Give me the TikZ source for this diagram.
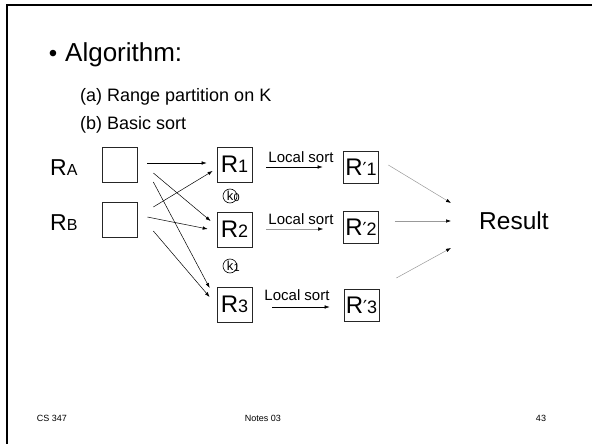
\documentclass[tikz,border=0pt]{standalone}
\usepackage{fontspec}
\setmainfont{Liberation Sans}
\newfontfamily\djv{DejaVu Sans}
\usetikzlibrary{arrows.meta}
\newcommand\Rlab[2]{{\fontsize{24}{28}\selectfont R}{\fontsize{18}{22}\selectfont #2}}
\newcommand\Rside[1]{{\fontsize{23}{28}\selectfont R}{\fontsize{16}{20}\selectfont #1}}
\newcommand\Rplab[1]{{\fontsize{24}{28}\selectfont R}{\djv\fontsize{18}{22}\selectfont ′}{\fontsize{18}{22}\selectfont #1}}
\begin{document}
\begin{tikzpicture}[x=1pt,y=-1pt,
  box/.style={draw=black!85, line width=0.7pt, minimum width=35pt, minimum height=35pt, inner sep=0pt},
  pbox/.style={draw=black!85, line width=0.7pt, minimum width=35pt, minimum height=32pt, inner sep=0pt},
  arr/.style={-{Latex[length=5pt,width=3.5pt]}, line width=0.5pt},
  garr/.style={-{Latex[length=5pt,width=3.5pt,black]}, line width=0.5pt, draw=black!40},
  lbl/.style={font=\fontsize{15}{17}\selectfont, inner sep=0pt},
  txt/.style={anchor=base west, inner sep=0pt},
  kc/.style={draw, circle, line width=0.6pt, minimum size=14pt, inner sep=0pt},
]
\useasboundingbox (0,0) rectangle (592,444);
\draw[line width=2.2pt] (7,444) -- (7,5) -- (592,5);

% heading
\node[anchor=base, inner sep=0pt, font=\fontsize{24}{28}\selectfont] (bul) at (53,62) {•};
\node[txt, font=\fontsize{26}{30}\selectfont] (title) at (65,62) {Algorithm:};
\node[txt, font=\fontsize{18}{22}\selectfont] (ia) at (80,101) {(a) Range partition on K};
\node[txt, font=\fontsize{18}{22}\selectfont] (ib) at (80,129) {(b) Basic sort};

% inputs
\node[txt] (la) at (50,175) {\Rside{A}};
\node[txt] (lb) at (50,230) {\Rside{B}};
\node[box] (A) at (120,164.5) {};
\node[box] (B) at (120,219.5) {};

% partitions
\node[box] (R1) at (234.5,164.5) {\Rlab{}{1}};
\node[box] (R2) at (234.5,229.5) {\Rlab{}{2}};
\node[box] (R3) at (234.5,304.5) {\Rlab{}{3}};

\node[kc] (k0) at (230,196) {};
\node[inner sep=0pt, font=\fontsize{13}{15}\selectfont] (k0t) at (230,196) {k};
\node[anchor=base west, inner sep=0pt, font=\fontsize{11}{13}\selectfont] (k0s) at (233.5,201) {0};
\node[kc] (k1) at (230,266) {};
\node[inner sep=0pt, font=\fontsize{13}{15}\selectfont] (k1t) at (230,266) {k};
\node[anchor=base west, inner sep=0pt, font=\fontsize{11}{13}\selectfont] (k1s) at (233.5,271) {1};

% sorted
\node[pbox] (P1) at (361,167.5) {\Rplab{1}};
\node[pbox] (P2) at (361,227) {\Rplab{2}};
\node[pbox] (P3) at (361.5,305.5) {\Rplab{3}};

\node[anchor=west, inner sep=0pt, font=\fontsize{24.5}{28}\selectfont] (res) at (479,221) {Result};

% arrows A,B -> R
\draw[arr] ([shift={(9.5,-1.5)}]A.east) -- ([shift={(-10,-1.5)}]R1.west);
\draw[arr] ([shift={(15.5,8.5)}]A.east) -- ([shift={(-6,-8.5)}]R2.west);
\draw[arr] ([shift={(15.5,17.5)}]A.east) -- ([shift={(-7,-16.5)}]R3.west);
\draw[arr] ([shift={(15.5,-12.5)}]B.east) -- ([shift={(-4,6.5)}]R1.west);
\draw[arr] ([shift={(9.5,-2.5)}]B.east) -- ([shift={(-9,-0.5)}]R2.west);
\draw[arr] ([shift={(15.5,11.5)}]B.east) -- ([shift={(-7,-7.5)}]R3.west);

% local sort
\node[lbl] (ls1) at (301,157) {Local sort};
\node[lbl] (ls2) at (301,219) {Local sort};
\node[lbl] (ls3) at (297,295) {Local sort};
\draw[arr] ([shift={(14,2.5)}]R1.east) -- ([shift={(-20.5,-0.5)}]P1.west);
\draw[garr] ([shift={(14,-0.5)}]R2.east) -- ([shift={(-20,2)}]P2.west);
\draw[arr] ([shift={(20,2.5)}]R3.east) -- ([shift={(-14,1.5)}]P3.west);

% to result
\draw[garr] ([shift={(9.5,-2.5)}]P1.east) -- ([shift={(-28,-18)}]res.west);
\draw[garr] ([shift={(16,-6)}]P2.east) -- ([shift={(-28,0)}]res.west);
\draw[garr] ([shift={(17,-27.5)}]P3.east) -- ([shift={(-28,27)}]res.west);

% footer
\node[inner sep=0pt, font=\fontsize{9}{11}\selectfont] (f1) at (52,418) {CS 347};
\node[inner sep=0pt, font=\fontsize{9}{11}\selectfont] (f2) at (263,418) {Notes 03};
\node[inner sep=0pt, font=\fontsize{9}{11}\selectfont] (f3) at (541,418) {43};
\end{tikzpicture}
\end{document}
